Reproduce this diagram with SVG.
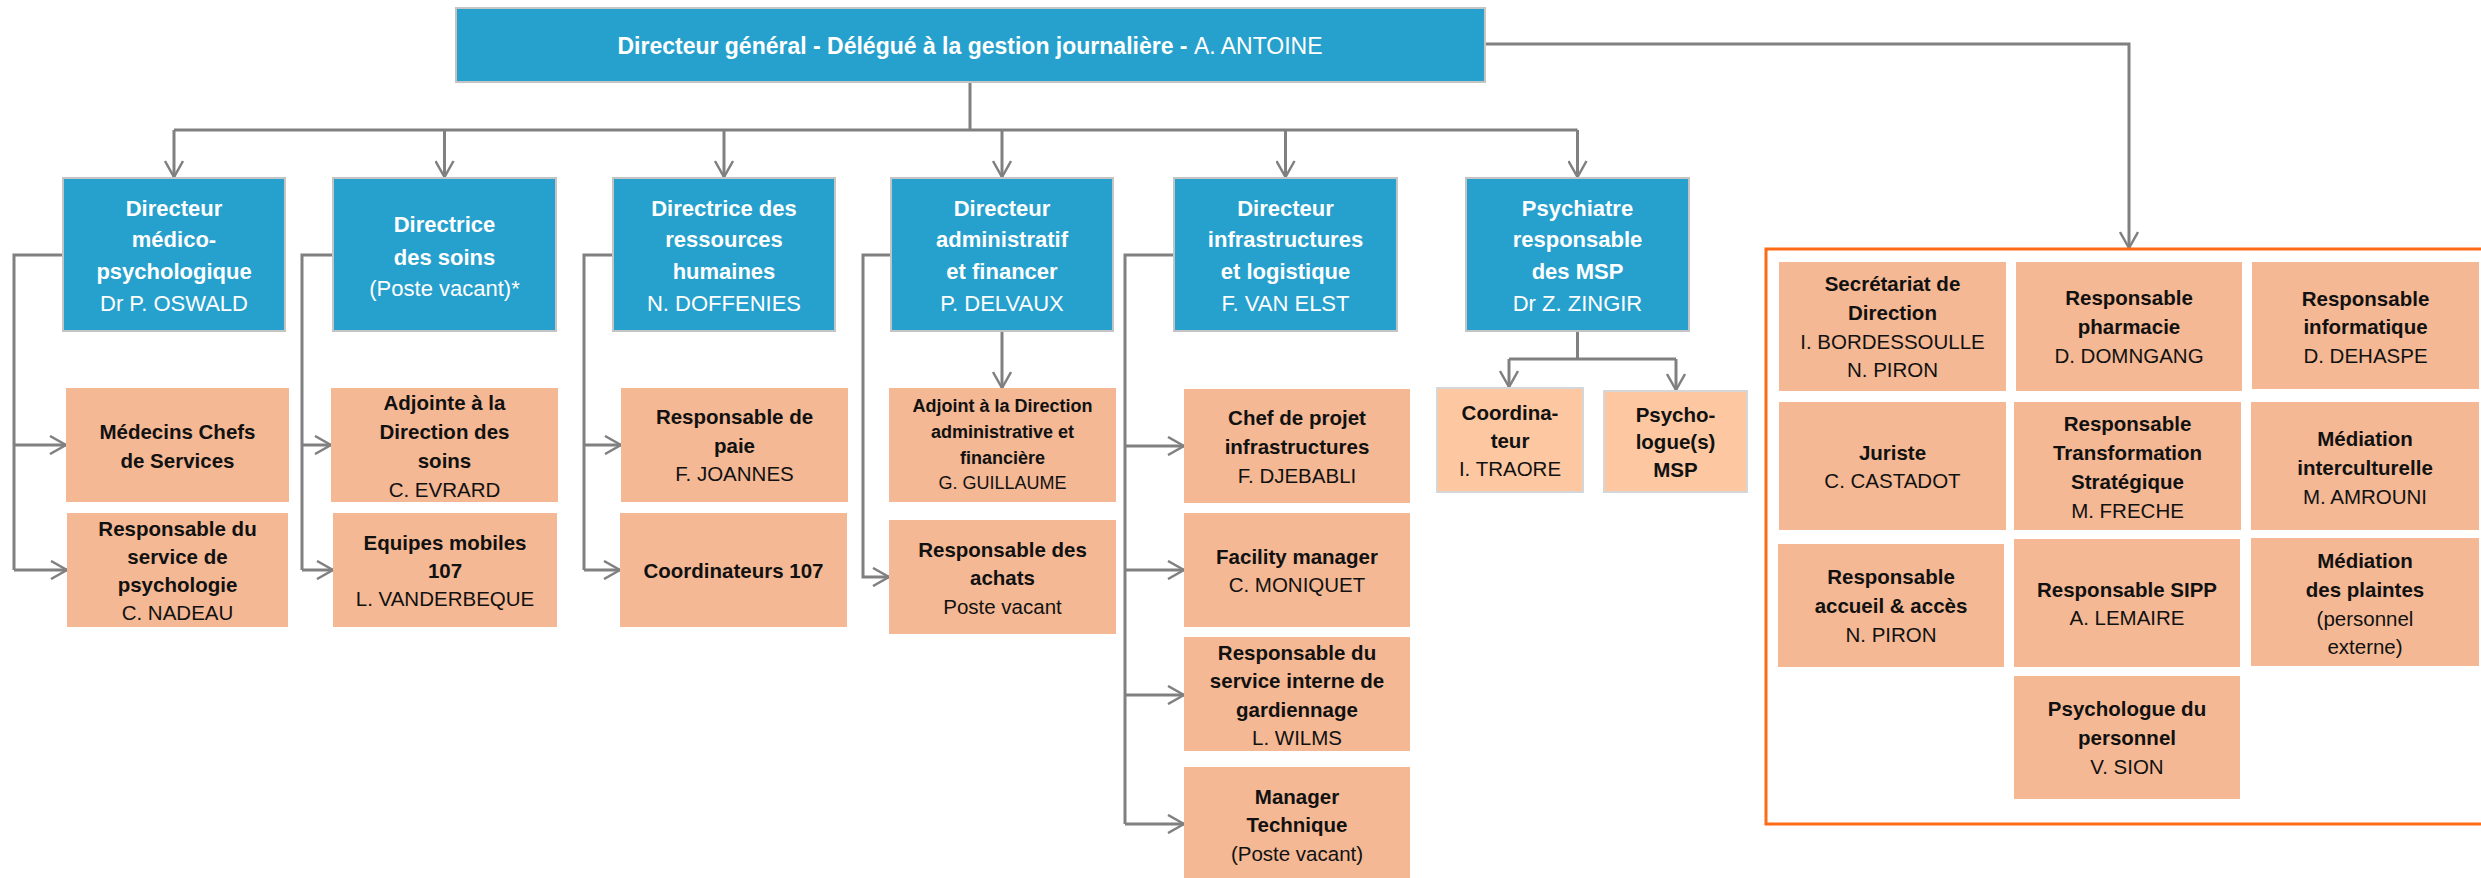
<svg xmlns="http://www.w3.org/2000/svg" width="2481" height="878" viewBox="0 0 2481 878">
<defs>
<marker id="arr" viewBox="0 0 20 20" refX="18" refY="10" markerWidth="20" markerHeight="20" markerUnits="userSpaceOnUse" orient="auto">
<path d="M2,1 L18,10 L2,19" fill="none" stroke="#808080" stroke-width="2.5"/>
</marker>
</defs>
<style>
text{font-family:"Liberation Sans",Arial,sans-serif;text-anchor:middle}
.blue{fill:#26A1CD;stroke:#C4C4C4;stroke-width:2}
.peach{fill:#F4B894}
.light{fill:#FDC8A1;stroke:#D6D6D6;stroke-width:2}
.w{fill:#FFFFFF;font-size:22px}
.t{fill:#FFFFFF;font-size:23px}
.k{fill:#111111;font-size:20.5px}
.s{fill:#111111;font-size:18px}
.b{font-weight:bold}
.c{fill:none;stroke:#808080;stroke-width:3}
.frame{fill:none;stroke:#FF6A16;stroke-width:3}
</style>
<rect width="2481" height="878" fill="#FFFFFF"/>

<g id="connectors">
<path class="c" d="M970,82 V130"/>
<path class="c" d="M174,130 H1577.5"/>
<path class="c" d="M174,130 V177" marker-end="url(#arr)"/>
<path class="c" d="M444.5,130 V177" marker-end="url(#arr)"/>
<path class="c" d="M724,130 V177" marker-end="url(#arr)"/>
<path class="c" d="M1002,130 V177" marker-end="url(#arr)"/>
<path class="c" d="M1285.5,130 V177" marker-end="url(#arr)"/>
<path class="c" d="M1577.5,130 V177" marker-end="url(#arr)"/>
<path class="c" d="M1485,44 H2129 V248" marker-end="url(#arr)"/>
<!-- branch 1 -->
<path class="c" d="M63,255 H14 V570"/>
<path class="c" d="M14,445 H66" marker-end="url(#arr)"/>
<path class="c" d="M14,570 H67" marker-end="url(#arr)"/>
<!-- branch 2 -->
<path class="c" d="M333,255 H302 V570"/>
<path class="c" d="M302,445 H331" marker-end="url(#arr)"/>
<path class="c" d="M302,570 H333" marker-end="url(#arr)"/>
<!-- branch 3 -->
<path class="c" d="M613,255 H584 V570"/>
<path class="c" d="M584,445 H621" marker-end="url(#arr)"/>
<path class="c" d="M584,570 H620" marker-end="url(#arr)"/>
<!-- branch 4 -->
<path class="c" d="M891,255 H863 V577 H889" marker-end="url(#arr)"/>
<path class="c" d="M1002,331 V388" marker-end="url(#arr)"/>
<!-- branch 5 -->
<path class="c" d="M1174,255 H1125 V824"/>
<path class="c" d="M1125,446 H1184" marker-end="url(#arr)"/>
<path class="c" d="M1125,570 H1184" marker-end="url(#arr)"/>
<path class="c" d="M1125,695 H1184" marker-end="url(#arr)"/>
<path class="c" d="M1125,824 H1184" marker-end="url(#arr)"/>
<!-- MSP -->
<path class="c" d="M1577.5,331 V359"/>
<path class="c" d="M1509,359 H1676"/>
<path class="c" d="M1509,359 V387" marker-end="url(#arr)"/>
<path class="c" d="M1676,359 V390" marker-end="url(#arr)"/>
</g>

<g id="dg">
<rect class="blue" x="456" y="8" width="1029" height="74"/>
<text class="t" x="970" y="54"><tspan class="b">Directeur général - Délégué à la gestion journalière - </tspan>A. ANTOINE</text>
</g>

<g id="dir-medico">
<rect class="blue" x="63" y="178" width="222" height="153"/>
<text class="w" x="174"><tspan class="b" x="174" y="216">Directeur</tspan><tspan class="b" x="174" y="247">médico-</tspan><tspan class="b" x="174" y="279">psychologique</tspan><tspan x="174" y="311">Dr P. OSWALD</tspan></text>
</g>
<g id="dir-soins">
<rect class="blue" x="333" y="178" width="223" height="153"/>
<text class="w" x="444.5"><tspan class="b" x="444.5" y="232">Directrice</tspan><tspan class="b" x="444.5" y="265">des soins</tspan><tspan x="444.5" y="296">(Poste vacant)*</tspan></text>
</g>
<g id="dir-rh">
<rect class="blue" x="613" y="178" width="222" height="153"/>
<text class="w" x="724"><tspan class="b" x="724" y="216">Directrice des</tspan><tspan class="b" x="724" y="247">ressources</tspan><tspan class="b" x="724" y="279">humaines</tspan><tspan x="724" y="311">N. DOFFENIES</tspan></text>
</g>
<g id="dir-af">
<rect class="blue" x="891" y="178" width="222" height="153"/>
<text class="w" x="1002"><tspan class="b" x="1002" y="216">Directeur</tspan><tspan class="b" x="1002" y="247">administratif</tspan><tspan class="b" x="1002" y="279">et financer</tspan><tspan x="1002" y="311">P. DELVAUX</tspan></text>
</g>
<g id="dir-infra">
<rect class="blue" x="1174" y="178" width="223" height="153"/>
<text class="w" x="1285.5"><tspan class="b" x="1285.5" y="216">Directeur</tspan><tspan class="b" x="1285.5" y="247">infrastructures</tspan><tspan class="b" x="1285.5" y="279">et logistique</tspan><tspan x="1285.5" y="311">F. VAN ELST</tspan></text>
</g>
<g id="dir-msp">
<rect class="blue" x="1466" y="178" width="223" height="153"/>
<text class="w" x="1577.5"><tspan class="b" x="1577.5" y="216">Psychiatre</tspan><tspan class="b" x="1577.5" y="247">responsable</tspan><tspan class="b" x="1577.5" y="279">des MSP</tspan><tspan x="1577.5" y="311">Dr Z. ZINGIR</tspan></text>
</g>

<g id="medecins-chefs">
<rect class="peach" x="66" y="388" width="223" height="114"/>
<text class="k b" x="177.5"><tspan x="177.5" y="439">Médecins Chefs</tspan><tspan x="177.5" y="468">de Services</tspan></text>
</g>
<g id="resp-psycho">
<rect class="peach" x="67" y="513" width="221" height="114"/>
<text class="k" x="177.5"><tspan class="b" x="177.5" y="536">Responsable du</tspan><tspan class="b" x="177.5" y="564">service de</tspan><tspan class="b" x="177.5" y="592">psychologie</tspan><tspan x="177.5" y="620">C. NADEAU</tspan></text>
</g>
<g id="adjointe-soins">
<rect class="peach" x="331" y="388" width="227" height="114"/>
<text class="k" x="444.5"><tspan class="b" x="444.5" y="410">Adjointe à la</tspan><tspan class="b" x="444.5" y="439">Direction des</tspan><tspan class="b" x="444.5" y="468">soins</tspan><tspan x="444.5" y="497">C. EVRARD</tspan></text>
</g>
<g id="equipes-mobiles">
<rect class="peach" x="333" y="513" width="224" height="114"/>
<text class="k" x="445"><tspan class="b" x="445" y="550">Equipes mobiles</tspan><tspan class="b" x="445" y="578">107</tspan><tspan x="445" y="606">L. VANDERBEQUE</tspan></text>
</g>
<g id="resp-paie">
<rect class="peach" x="621" y="388" width="227" height="114"/>
<text class="k" x="734.5"><tspan class="b" x="734.5" y="424">Responsable de</tspan><tspan class="b" x="734.5" y="453">paie</tspan><tspan x="734.5" y="481">F. JOANNES</tspan></text>
</g>
<g id="coord-107">
<rect class="peach" x="620" y="513" width="227" height="114"/>
<text class="k b" x="733.5" y="578">Coordinateurs 107</text>
</g>
<g id="adjoint-daf">
<rect class="peach" x="889" y="388" width="227" height="114"/>
<text class="s" x="1002.5"><tspan class="b" x="1002.5" y="412">Adjoint à la Direction</tspan><tspan class="b" x="1002.5" y="438">administrative et</tspan><tspan class="b" x="1002.5" y="464">financière</tspan><tspan x="1002.5" y="489">G. GUILLAUME</tspan></text>
</g>
<g id="resp-achats">
<rect class="peach" x="889" y="520" width="227" height="114"/>
<text class="k" x="1002.5"><tspan class="b" x="1002.5" y="557">Responsable des</tspan><tspan class="b" x="1002.5" y="585">achats</tspan><tspan x="1002.5" y="614">Poste vacant</tspan></text>
</g>
<g id="chef-projet">
<rect class="peach" x="1184" y="389" width="226" height="114"/>
<text class="k" x="1297"><tspan class="b" x="1297" y="425">Chef de projet</tspan><tspan class="b" x="1297" y="454">infrastructures</tspan><tspan x="1297" y="483">F. DJEBABLI</tspan></text>
</g>
<g id="facility">
<rect class="peach" x="1184" y="513" width="226" height="114"/>
<text class="k" x="1297"><tspan class="b" x="1297" y="564">Facility manager</tspan><tspan x="1297" y="592">C. MONIQUET</tspan></text>
</g>
<g id="gardiennage">
<rect class="peach" x="1184" y="637" width="226" height="114"/>
<text class="k" x="1297"><tspan class="b" x="1297" y="660">Responsable du</tspan><tspan class="b" x="1297" y="688">service interne de</tspan><tspan class="b" x="1297" y="717">gardiennage</tspan><tspan x="1297" y="745">L. WILMS</tspan></text>
</g>
<g id="manager-tech">
<rect class="peach" x="1184" y="767" width="226" height="115"/>
<text class="k" x="1297"><tspan class="b" x="1297" y="804">Manager</tspan><tspan class="b" x="1297" y="832">Technique</tspan><tspan x="1297" y="861">(Poste vacant)</tspan></text>
</g>
<g id="coordinateur-msp">
<rect class="light" x="1437" y="388" width="146" height="104"/>
<text class="k" x="1510"><tspan class="b" x="1510" y="420">Coordina-</tspan><tspan class="b" x="1510" y="448">teur</tspan><tspan x="1510" y="476">I. TRAORE</tspan></text>
</g>
<g id="psychologues-msp">
<rect class="light" x="1604" y="391" width="143" height="101"/>
<text class="k b" x="1675.5"><tspan x="1675.5" y="422">Psycho-</tspan><tspan x="1675.5" y="449">logue(s)</tspan><tspan x="1675.5" y="477">MSP</tspan></text>
</g>

<g id="staff-frame">
<rect class="frame" x="1766" y="249" width="730" height="575"/>
</g>
<g id="secretariat">
<rect class="peach" x="1779" y="262" width="227" height="129"/>
<text class="k" x="1892.5"><tspan class="b" x="1892.5" y="291">Secrétariat de</tspan><tspan class="b" x="1892.5" y="320">Direction</tspan><tspan x="1892.5" y="349">I. BORDESSOULLE</tspan><tspan x="1892.5" y="377">N. PIRON</tspan></text>
</g>
<g id="pharmacie">
<rect class="peach" x="2016" y="262" width="226" height="129"/>
<text class="k" x="2129"><tspan class="b" x="2129" y="305">Responsable</tspan><tspan class="b" x="2129" y="334">pharmacie</tspan><tspan x="2129" y="363">D. DOMNGANG</tspan></text>
</g>
<g id="informatique">
<rect class="peach" x="2252" y="262" width="227" height="127"/>
<text class="k" x="2365.5"><tspan class="b" x="2365.5" y="306">Responsable</tspan><tspan class="b" x="2365.5" y="334">informatique</tspan><tspan x="2365.5" y="363">D. DEHASPE</tspan></text>
</g>
<g id="juriste">
<rect class="peach" x="1779" y="402" width="227" height="128"/>
<text class="k" x="1892.5"><tspan class="b" x="1892.5" y="460">Juriste</tspan><tspan x="1892.5" y="488">C. CASTADOT</tspan></text>
</g>
<g id="transformation">
<rect class="peach" x="2014" y="402" width="227" height="128"/>
<text class="k" x="2127.5"><tspan class="b" x="2127.5" y="431">Responsable</tspan><tspan class="b" x="2127.5" y="460">Transformation</tspan><tspan class="b" x="2127.5" y="489">Stratégique</tspan><tspan x="2127.5" y="518">M. FRECHE</tspan></text>
</g>
<g id="mediation-interculturelle">
<rect class="peach" x="2251" y="402" width="228" height="128"/>
<text class="k" x="2365"><tspan class="b" x="2365" y="446">Médiation</tspan><tspan class="b" x="2365" y="475">interculturelle</tspan><tspan x="2365" y="504">M. AMROUNI</tspan></text>
</g>
<g id="accueil">
<rect class="peach" x="1778" y="544" width="226" height="123"/>
<text class="k" x="1891"><tspan class="b" x="1891" y="584">Responsable</tspan><tspan class="b" x="1891" y="613">accueil &amp; accès</tspan><tspan x="1891" y="642">N. PIRON</tspan></text>
</g>
<g id="sipp">
<rect class="peach" x="2014" y="539" width="226" height="128"/>
<text class="k" x="2127"><tspan class="b" x="2127" y="597">Responsable SIPP</tspan><tspan x="2127" y="625">A. LEMAIRE</tspan></text>
</g>
<g id="mediation-plaintes">
<rect class="peach" x="2251" y="538" width="228" height="128"/>
<text class="k" x="2365"><tspan class="b" x="2365" y="568">Médiation</tspan><tspan class="b" x="2365" y="597">des plaintes</tspan><tspan x="2365" y="626">(personnel</tspan><tspan x="2365" y="654">externe)</tspan></text>
</g>
<g id="psychologue-personnel">
<rect class="peach" x="2014" y="676" width="226" height="123"/>
<text class="k" x="2127"><tspan class="b" x="2127" y="716">Psychologue du</tspan><tspan class="b" x="2127" y="745">personnel</tspan><tspan x="2127" y="774">V. SION</tspan></text>
</g>
</svg>
